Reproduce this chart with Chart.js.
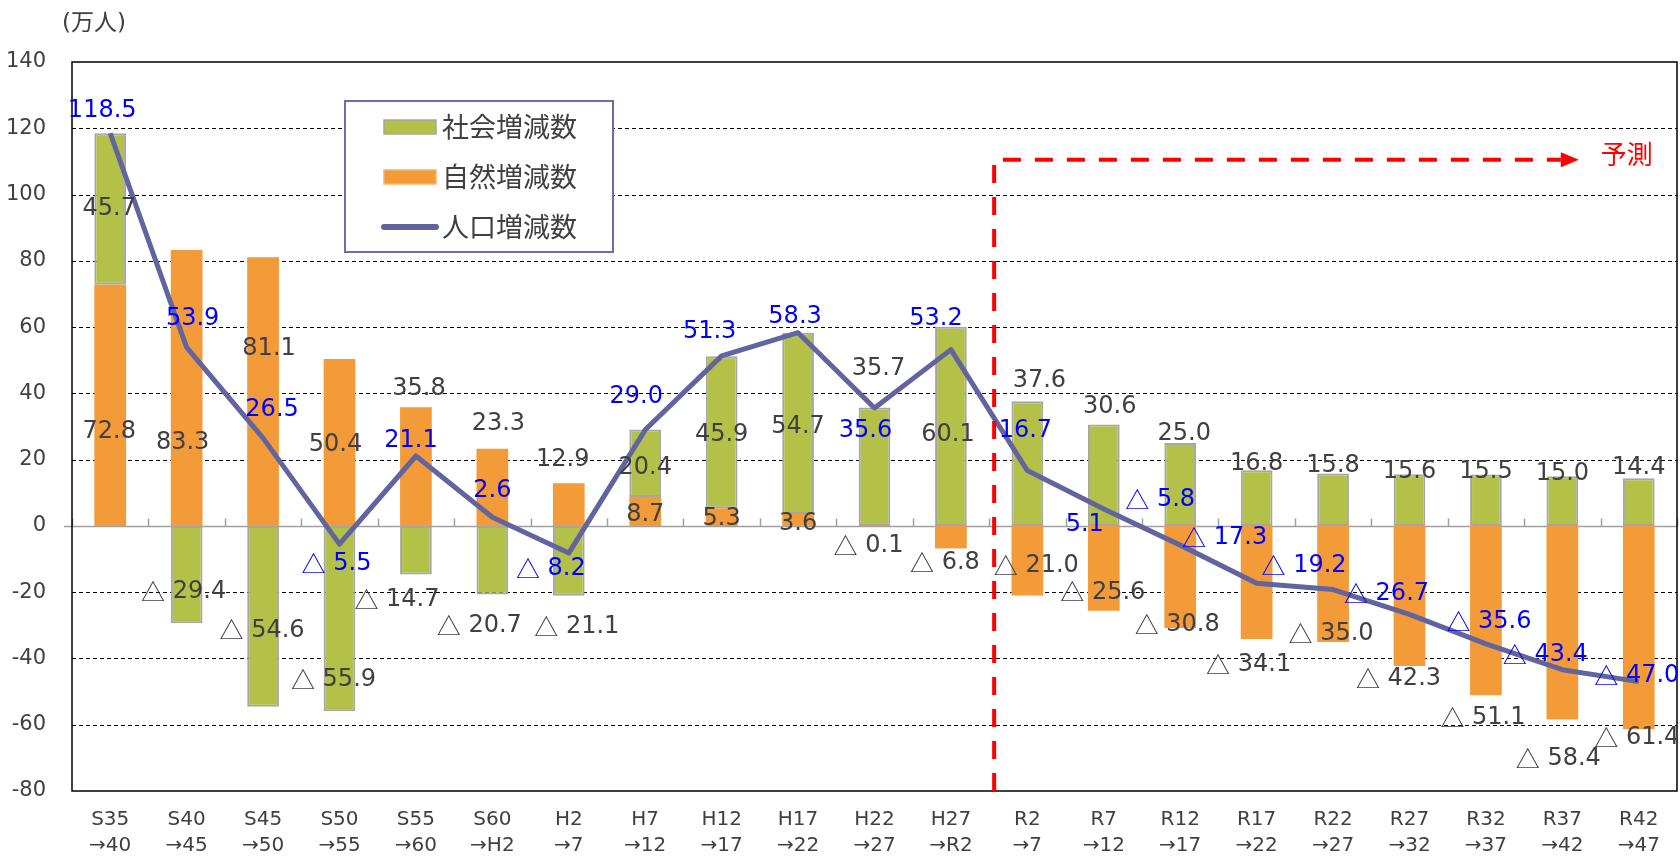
<!DOCTYPE html>
<html>
<head>
<meta charset="utf-8">
<script src="https://cdn.jsdelivr.net/npm/chart.js@4.4.1/dist/chart.umd.min.js"></script>
<style>
  html, body { margin: 0; padding: 0; background: #fff; }
  #wrap { width: 1680px; height: 859px; }
</style>
</head>
<body>
<div id="wrap"><canvas id="popChart"></canvas></div>
<script>
// 期間
const periods = [
  ['S35', '→40'], ['S40', '→45'], ['S45', '→50'], ['S50', '→55'], ['S55', '→60'],
  ['S60', '→H2'], ['H2', '→7'], ['H7', '→12'], ['H12', '→17'], ['H17', '→22'],
  ['H22', '→27'], ['H27', '→R2'], ['R2', '→7'], ['R7', '→12'], ['R12', '→17'],
  ['R17', '→22'], ['R22', '→27'], ['R27', '→32'], ['R32', '→37'], ['R37', '→42'],
  ['R42', '→47']
];
// 社会増減数 (万人)
const socialChange = [45.7, -29.4, -54.6, -55.9, -14.7, -20.7, -21.1, 20.4, 45.9, 54.7,
  35.7, 60.1, 37.6, 30.6, 25.0, 16.8, 15.8, 15.6, 15.5, 15.0, 14.4];
// 自然増減数 (万人)
const naturalChange = [72.8, 83.3, 81.1, 50.4, 35.8, 23.3, 12.9, 8.7, 5.3, 3.6,
  -0.1, -6.8, -21.0, -25.6, -30.8, -34.1, -35.0, -42.3, -51.1, -58.4, -61.4];
// 人口増減数 (万人)
const totalChange = [118.5, 53.9, 26.5, -5.5, 21.1, 2.6, -8.2, 29.0, 51.3, 58.3,
  35.6, 53.2, 16.7, 5.1, -5.8, -17.3, -19.2, -26.7, -35.6, -43.4, -47.0];
// 目盛り
const yMin = -80, yMax = 140, yStep = 20;
const forecastStart = 12; // R2→7 から予測

// ラベル位置の微調整 [dx, dy] (px)
const naturalLabelOffset = [[-1,26],[-4,55],[6,-43],[-4,2],[3,-78],[6,-64],[-6,-45],[0,3],[0,2],[0,4],
  [-6,20],[-6,26],[9,5],[-1,24],[-3,48],[-8,82],[-2,50],[-11,83],[-3,107],[-4,136],[-2,110]];
const socialLabelOffset = [[-1,0],[-3,17],[-1,14],[-6,61],[-19,50],[-13,66],[8,66],[0,4],[0,2],[0,3],
  [4,-98],[-3,8],[12,-83],[6,-68],[4,-51],[0,-34],[0,-34],[0,-28],[0,-28],[0,-27],[0,-34]];
const totalLabelOffset = [[-8,-22],[6,-29],[9,-28],[-3,20],[-5,-15],[0,-27],[-18,16],[-9,-33],[-12,-24],[-3,-16],
  [-9,23],[-15,-31],[-2,-40],[-19,16],[-20,-45],[-32,-45],[-29,-24],[-23,-21],[3,-22],[-17,-15],[-2,-6]];

const LATIN = '"DejaVu Sans"';
const CJK = '"Noto Sans CJK JP"';
const FONT = `${LATIN}, ${CJK}, sans-serif`;
const TEXT = '#404040';
const GREEN = '#B3C148';
const ORANGE = '#F29B38';
const LINE = '#6264A0';

function seg(ctx, x1, y1, x2, y2) {
  ctx.beginPath();
  ctx.moveTo(x1, y1);
  ctx.lineTo(x2, y2);
  ctx.stroke();
}

// △ は和文フォント、数字は欧文フォントで描く
function drawValue(ctx, v, cx, cy, size) {
  const num = Math.abs(v).toFixed(1);
  ctx.textAlign = 'left';
  ctx.textBaseline = 'middle';
  if (v >= 0) {
    ctx.font = `${size}px ${LATIN}`;
    ctx.fillText(num, cx - ctx.measureText(num).width / 2, cy);
    return;
  }
  ctx.font = `${size}px ${CJK}`;
  const wTri = ctx.measureText('△').width;
  ctx.font = `${size}px ${LATIN}`;
  const wNum = ctx.measureText(' ' + num).width;
  const left = cx - (wTri + wNum) / 2;
  ctx.font = `${size}px ${CJK}`;
  ctx.fillText('△', left, cy);
  ctx.font = `${size}px ${LATIN}`;
  ctx.fillText(' ' + num, left + wTri, cy);
}

// 枠・目盛線・0軸
const framePlugin = {
  id: 'frame',
  beforeDatasetsDraw(chart) {
    const { ctx, chartArea: a, scales: { x, y } } = chart;
    ctx.save();
    ctx.strokeStyle = '#000';
    ctx.lineWidth = 1;
    ctx.setLineDash([4, 3]);
    for (let v = yMin + yStep; v < yMax; v += yStep) {
      if (v === 0) continue;
      const py = Math.round(y.getPixelForValue(v)) + 0.5;
      seg(ctx, a.left, py, a.right, py);
    }
    ctx.setLineDash([]);
    const y0 = Math.round(y.getPixelForValue(0)) + 0.5;
    const step = x.getPixelForValue(1) - x.getPixelForValue(0);
    ctx.strokeStyle = '#A0A0A0';
    ctx.lineWidth = 1.5;
    seg(ctx, a.left - 8, y0, a.right, y0);
    for (let i = 0; i <= periods.length; i++) {
      const px = Math.round(x.getPixelForValue(0) - step / 2 + i * step) + 0.5;
      seg(ctx, px, y0, px, y0 - 8);
    }
    ctx.strokeStyle = '#000';
    ctx.lineWidth = 1.5;
    ctx.strokeRect(a.left, a.top, a.right - a.left, a.bottom - a.top);
    ctx.restore();
  }
};

// 予測の矢印
const forecastPlugin = {
  id: 'forecast',
  afterDatasetsDraw(chart) {
    const { ctx, chartArea: a, scales: { x, y } } = chart;
    const step = x.getPixelForValue(1) - x.getPixelForValue(0);
    const xv = x.getPixelForValue(forecastStart) - step / 2 + 5;
    const yh = y.getPixelForValue(110.5);
    const tip = x.getPixelForValue(periods.length - 1) - 60;
    ctx.save();
    ctx.strokeStyle = '#FF0000';
    ctx.fillStyle = '#FF0000';
    ctx.lineWidth = 4;
    ctx.setLineDash([18, 14]);
    ctx.beginPath();
    ctx.moveTo(xv, a.bottom);
    ctx.lineTo(xv, yh);
    ctx.lineTo(tip - 18, yh);
    ctx.stroke();
    ctx.setLineDash([]);
    ctx.beginPath();
    ctx.moveTo(tip - 18, yh - 7.5);
    ctx.lineTo(tip, yh);
    ctx.lineTo(tip - 18, yh + 7.5);
    ctx.closePath();
    ctx.fill();
    ctx.font = `26px ${CJK}`;
    ctx.textAlign = 'center';
    ctx.textBaseline = 'middle';
    ctx.fillText('予測', tip + 48, yh - 6);
    ctx.restore();
  }
};

// データラベル
const valueLabelPlugin = {
  id: 'valueLabels',
  afterDatasetsDraw(chart) {
    const { ctx } = chart;
    const specs = [
      { ds: 1, values: naturalChange, off: naturalLabelOffset, color: TEXT, bar: true },
      { ds: 0, values: socialChange, off: socialLabelOffset, color: TEXT, bar: true },
      { ds: 2, values: totalChange, off: totalLabelOffset, color: '#0000FF', bar: false }
    ];
    ctx.save();
    specs.forEach(s => {
      const meta = chart.getDatasetMeta(s.ds);
      ctx.fillStyle = s.color;
      meta.data.forEach((el, i) => {
        const cy = s.bar ? (el.y + el.base) / 2 : el.y;
        drawValue(ctx, s.values[i], el.x + s.off[i][0], cy + s.off[i][1], 24);
      });
    });
    ctx.restore();
  }
};

// 凡例と単位
const legendBoxPlugin = {
  id: 'legendBox',
  afterDraw(chart) {
    const { ctx, chartArea: a } = chart;
    const left = a.left + 273, top = a.top + 39, w = 268, h = 151;
    ctx.save();
    ctx.fillStyle = '#fff';
    ctx.fillRect(left, top, w, h);
    ctx.strokeStyle = '#6D6DA8';
    ctx.lineWidth = 2;
    ctx.strokeRect(left, top, w, h);
    const items = [
      { text: chart.data.datasets[0].label, type: 'bar', fill: GREEN, border: '#A6A6A6' },
      { text: chart.data.datasets[1].label, type: 'bar', fill: ORANGE, border: '#F5B46A' },
      { text: chart.data.datasets[2].label, type: 'line', fill: LINE }
    ];
    ctx.font = `27px ${CJK}`;
    ctx.textAlign = 'left';
    ctx.textBaseline = 'middle';
    items.forEach((it, k) => {
      const cy = top + 26 + k * 50;
      const sx = left + 39;
      if (it.type === 'bar') {
        ctx.fillStyle = it.fill;
        ctx.fillRect(sx, cy - 7, 52, 14);
        ctx.strokeStyle = it.border;
        ctx.lineWidth = 1.5;
        ctx.strokeRect(sx, cy - 7, 52, 14);
      } else {
        ctx.strokeStyle = it.fill;
        ctx.lineWidth = 6;
        ctx.lineCap = 'round';
        seg(ctx, sx, cy, sx + 52, cy);
      }
      ctx.fillStyle = TEXT;
      ctx.fillText(it.text, sx + 58, cy);
    });
    ctx.font = `23px ${FONT}`;
    ctx.textAlign = 'center';
    ctx.fillStyle = TEXT;
    ctx.fillText('(万人)', a.left + 22, a.top - 38);
    ctx.restore();
  }
};

const ctx = document.getElementById('popChart').getContext('2d');
new Chart(ctx, {
  type: 'bar',
  data: {
    labels: periods,
    datasets: [
      {
        label: '社会増減数',
        data: socialChange,
        backgroundColor: GREEN,
        borderColor: '#A6A6A6',
        borderWidth: 2,
        borderSkipped: false,
        stack: 'pop',
        order: 2,
        barPercentage: 0.415,
        categoryPercentage: 1.0
      },
      {
        label: '自然増減数',
        data: naturalChange,
        backgroundColor: ORANGE,
        borderWidth: 0,
        stack: 'pop',
        order: 1,
        barPercentage: 0.415,
        categoryPercentage: 1.0
      },
      {
        type: 'line',
        label: '人口増減数',
        data: totalChange,
        borderColor: LINE,
        backgroundColor: LINE,
        borderWidth: 5,
        pointRadius: 0,
        tension: 0,
        borderJoinStyle: 'round',
        order: 0
      }
    ]
  },
  options: {
    responsive: true,
    maintainAspectRatio: false,
    animation: false,
    devicePixelRatio: 1,
    layout: { padding: { top: 62, right: 3, left: 0, bottom: 0 } },
    plugins: {
      legend: { display: false },
      tooltip: { enabled: false }
    },
    scales: {
      x: {
        stacked: true,
        grid: { display: false, drawTicks: false },
        border: { display: false },
        ticks: {
          color: TEXT,
          font: { size: 20, family: FONT, lineHeight: 1.3 },
          padding: 16,
          autoSkip: false,
          maxRotation: 0
        },
        afterFit(s) { s.height = 68; }
      },
      y: {
        stacked: true,
        min: yMin,
        max: yMax,
        grid: { display: false, drawTicks: false },
        border: { display: false },
        ticks: {
          stepSize: yStep,
          color: TEXT,
          padding: 26,
          font: { size: 21, family: FONT }
        },
        afterFit(s) { s.width = 72; }
      }
    }
  },
  plugins: [framePlugin, forecastPlugin, valueLabelPlugin, legendBoxPlugin]
});
</script>
</body>
</html>
